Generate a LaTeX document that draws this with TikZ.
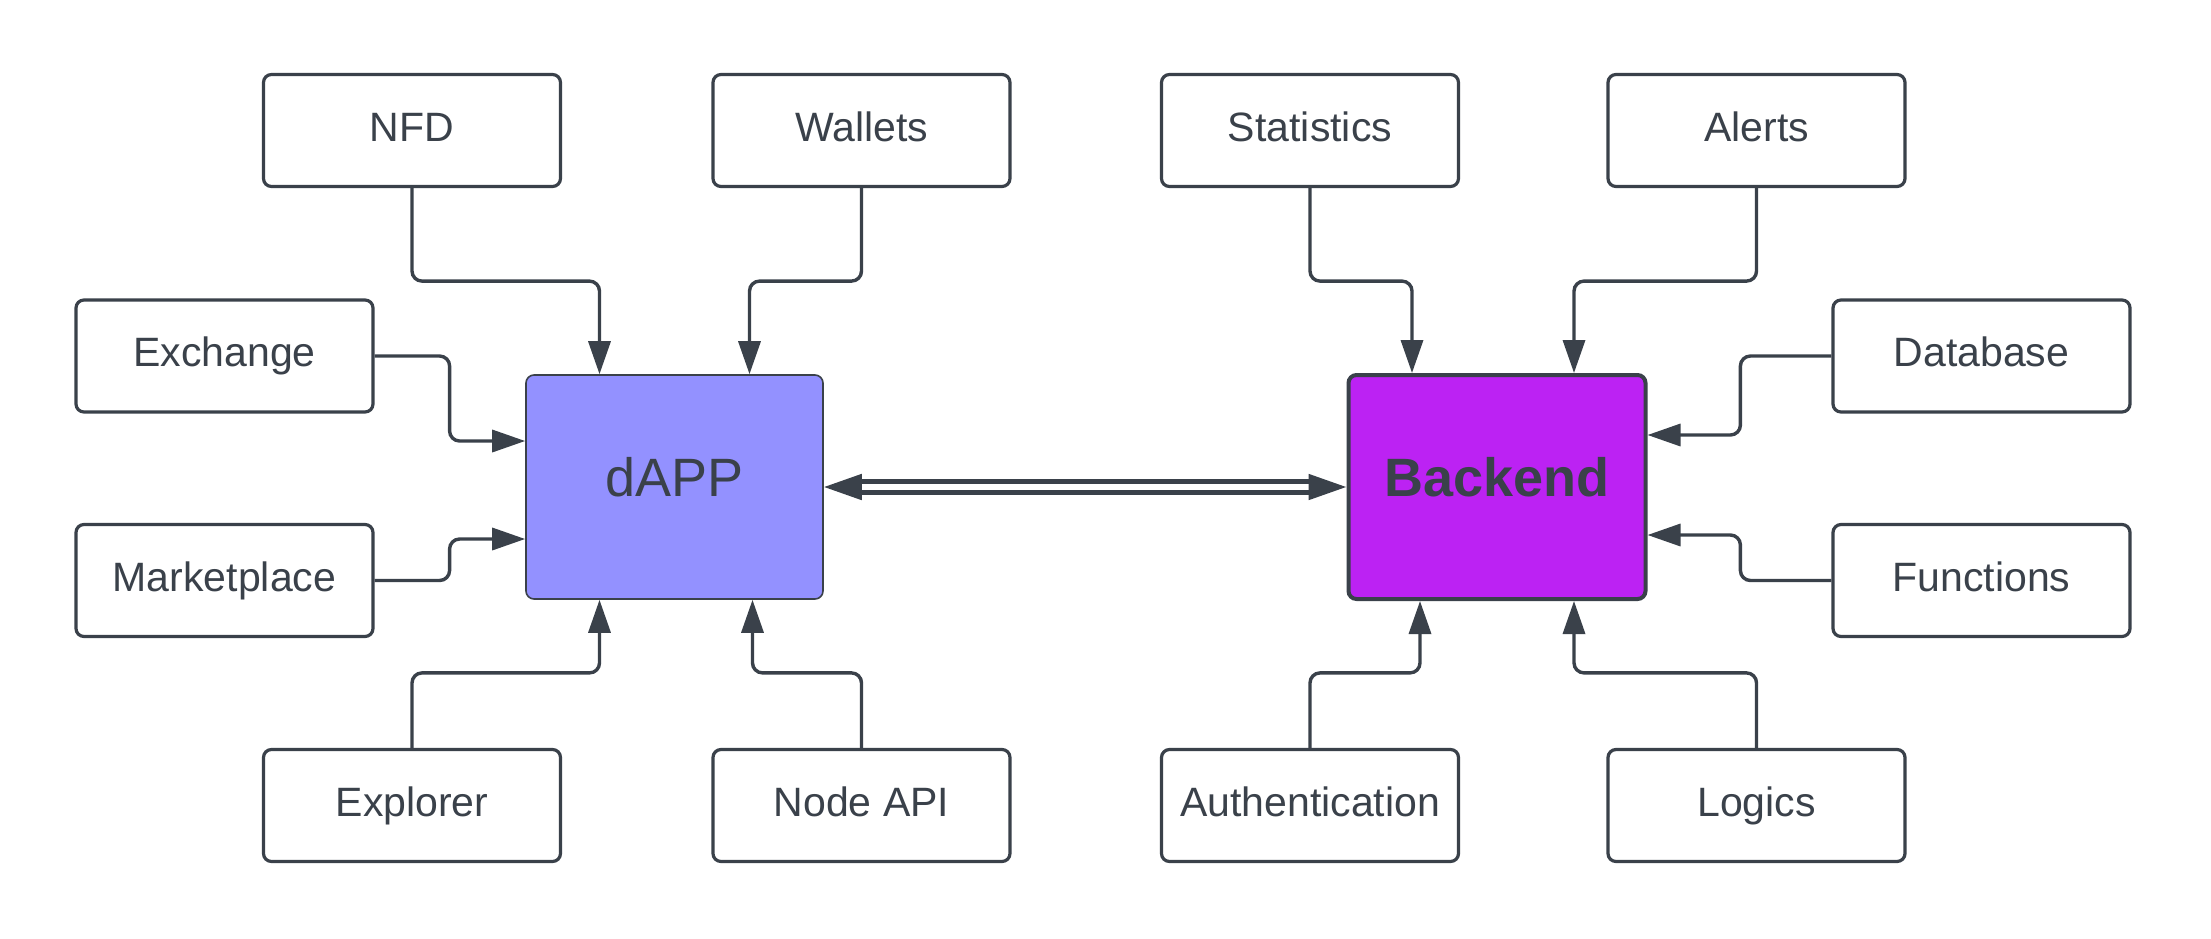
\documentclass[tikz,border=0pt]{standalone}
\usepackage{fontspec}
\setmainfont{Liberation Sans}
\usetikzlibrary{arrows.meta,calc}
\definecolor{ink}{HTML}{3A414A}
\definecolor{dappfill}{HTML}{9391FF}
\definecolor{backfill}{HTML}{BC22F3}
\begin{document}
\begin{tikzpicture}[x=0.5pt,y=-0.5pt,
  box/.style={draw=ink,line width=1.6pt,rounded corners=4pt,fill=white,
    minimum width=148.5pt,minimum height=56pt,inner sep=0pt,text=ink,
    text height=14pt,text depth=3.5pt,
    font=\fontsize{20.5}{24}\selectfont},
  hub/.style={draw=ink,rounded corners=4pt,minimum width=148.5pt,minimum height=112pt,
    inner sep=0pt,text=ink,text height=20pt,text depth=11pt,
    font=\fontsize{27}{32}\selectfont},
  conn/.style={draw=ink,line width=1.7pt,rounded corners=5pt,
    -{Triangle[length=16.5pt,width=11pt]}},
  dbl/.style={draw=ink,line width=2.5pt,double=white,double distance=3pt,
    {Triangle[length=19pt,width=12.5pt]}-{Triangle[length=19pt,width=12.5pt]}}
]
\useasboundingbox (0,0) rectangle (2211,938);
\fill[white] (0,0) rectangle (2211,938);

\node[hub,fill=dappfill,line width=0.8pt] (dapp) at (674.5,487) {dAPP};
\node[hub,fill=backfill,line width=2pt,font=\fontsize{27}{32}\selectfont\bfseries] (backend) at (1497,487) {Backend};

\node[box] (nfd) at (412,130.5) {NFD};
\node[box] (wallets) at (861.5,130.5) {Wallets};
\node[box] (exchange) at (224.5,356) {Exchange};
\node[box] (market) at (224.5,580.5) {Marketplace};
\node[box] (explorer) at (412,805.5) {Explorer};
\node[box] (nodeapi) at (861.5,805.5) {Node API};

\node[box] (stats) at (1310,130.5) {Statistics};
\node[box] (alerts) at (1756.5,130.5) {Alerts};
\node[box] (db) at (1981.5,356) {Database};
\node[box] (func) at (1981.5,580.5) {Functions};
\node[box] (auth) at (1310,805.5) {Authentication};
\node[box] (logics) at (1756.5,805.5) {Logics};

\draw[conn] (nfd.south) -- ++(0,93) -| ($(dapp.north)+(-75,0)$);
\draw[conn] (wallets.south) -- ++(0,93) -| ($(dapp.north)+(75,0)$);
\draw[conn] (exchange.east) -- ++(75,0) |- ($(dapp.west)+(0,-46)$);
\draw[conn] (market.east) -- ++(75,0) |- ($(dapp.west)+(0,52)$);
\draw[conn] (explorer.north) -- ++(0,-75) -| ($(dapp.south)+(-75,0)$);
\draw[conn] (nodeapi.north) -- ++(0,-75) -| ($(dapp.south)+(78,0)$);

\draw[conn] (stats.south) -- ++(0,93) -| ($(backend.north)+(-85,0)$);
\draw[conn] (alerts.south) -- ++(0,93) -| ($(backend.north)+(77,0)$);
\draw[conn] (db.west) -- ++(-91,0) |- ($(backend.east)+(0,-52)$);
\draw[conn] (func.west) -- ++(-91,0) |- ($(backend.east)+(0,48)$);
\draw[conn] (auth.north) -- ++(0,-75) -| ($(backend.south)+(-77,0)$);
\draw[conn] (logics.north) -- ++(0,-75) -| ($(backend.south)+(77,0)$);

\draw[dbl] (dapp.east) -- (backend.west);
\end{tikzpicture}
\end{document}
